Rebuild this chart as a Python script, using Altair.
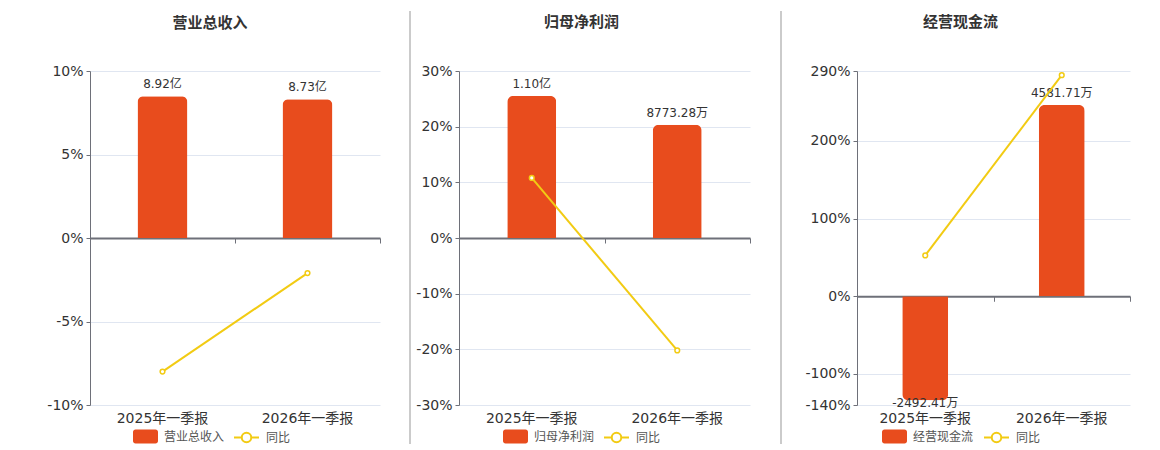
import altair as alt
import pandas as pd

categories = ["2025年一季报", "2026年一季报"]

rev_name = "营业总收入"
rev_values = [8.92, 8.73]          # 亿
rev_labels = ["8.92亿", "8.73亿"]
rev_yoy = [-8.0, -2.1]             # %

np_name = "归母净利润"
np_values = [11000.0, 8773.28]     # 万
np_labels = ["1.10亿", "8773.28万"]
np_yoy = [10.8, -20.2]

cf_name = "经营现金流"
cf_values = [-2492.41, 4581.71]    # 万
cf_labels = ["-2492.41万", "4581.71万"]
cf_yoy = [52.6, 284.6]

yoy_name = "同比"

BAR = "#E84C1D"
LINE = "#F2CB13"
AXIS = "#6E7079"
GRID = "#E0E6F1"
TXT = "#333333"
FONT = "DejaVu Sans, Noto Sans CJK SC, sans-serif"
H = 334

RECT_PATH = ("M-0.8,-0.56 H0.8 A0.2,0.2 0 0 1 1,-0.36 V0.36 A0.2,0.2 0 0 1 0.8,0.56 "
             "H-0.8 A0.2,0.2 0 0 1 -1,0.36 V-0.36 A0.2,0.2 0 0 1 -0.8,-0.56 Z")
LINE_PATH = ("M-1,0 H-0.38 M0.38,0 H1 M-0.38,0 A0.38,0.38 0 1 1 0.38,0 "
             "A0.38,0.38 0 1 1 -0.38,0")


def panel(name, values, labels, yoy, pct_domain, pct_ticks, bar_domain, width,
          axis_extent, bar_w, title_dx, leg_x1, leg_x2, sep_x, sep_op):
    df = pd.DataFrame({"cat": categories, "val": values, "label": labels, "yoy": yoy})
    zero_px = H * pct_domain[1] / (pct_domain[1] - pct_domain[0])
    xs = alt.Scale(domain=categories, paddingInner=0, paddingOuter=0)
    ybar_scale = alt.Scale(domain=bar_domain, nice=False, zero=False)
    ypct_scale = alt.Scale(domain=pct_domain, nice=False, zero=False)

    fill_enc = alt.Fill(
        "n:N",
        scale=alt.Scale(domain=[name], range=[BAR]),
        legend=alt.Legend(title=None, orient="none", legendX=leg_x1, legendY=353,
                          padding=0, symbolType=RECT_PATH, symbolSize=625,
                          symbolStrokeWidth=0, labelFontSize=12, labelColor="#555555",
                          labelOffset=6, labelFont=FONT),
    )
    base = alt.Chart(df).transform_calculate(n=f"'{name}'")

    zero_axis = alt.Axis(title=None, orient="bottom", labels=False, domain=True,
                         domainColor=AXIS, domainWidth=2, ticks=True, tickBand="extent",
                         tickColor=AXIS, tickSize=5, grid=False,
                         offset=-(H - zero_px))

    bars_pos = base.transform_filter("datum.val >= 0").mark_bar(
        size=bar_w, cornerRadiusTopLeft=6, cornerRadiusTopRight=6
    ).encode(
        x=alt.X("cat:N", scale=xs, sort=categories, axis=zero_axis),
        y=alt.Y("val:Q", scale=ybar_scale, axis=None),
        fill=fill_enc,
    )
    bars_neg = base.transform_filter("datum.val < 0").mark_bar(
        size=bar_w, cornerRadiusBottomLeft=6, cornerRadiusBottomRight=6
    ).encode(
        x=alt.X("cat:N", scale=xs, sort=categories, axis=None),
        y=alt.Y("val:Q", scale=ybar_scale, axis=None),
        fill=fill_enc,
    )
    text_pos = base.transform_filter("datum.val >= 0").mark_text(
        baseline="bottom", dy=-5, fontSize=12, color=TXT, font=FONT
    ).encode(
        x=alt.X("cat:N", scale=xs, sort=categories, axis=None),
        y=alt.Y("val:Q", scale=ybar_scale, axis=None),
        text="label:N",
    )
    text_neg = base.transform_filter("datum.val < 0").mark_text(
        baseline="top", dy=-2, fontSize=12, color=TXT, font=FONT
    ).encode(
        x=alt.X("cat:N", scale=xs, sort=categories, axis=None),
        y=alt.Y("val:Q", scale=ybar_scale, axis=None),
        text="label:N",
    )
    line = alt.Chart(df).transform_calculate(s=f"'{yoy_name}'").mark_line(
        strokeWidth=2,
        point=alt.OverlayMarkDef(filled=False, fill="white", size=22, strokeWidth=1.5),
    ).encode(
        x=alt.X("cat:N", scale=xs, sort=categories,
                axis=alt.Axis(title=None, orient="bottom", domain=False, ticks=False,
                              labelAngle=0, labelFontSize=14, labelColor=TXT,
                              labelPadding=6, labelFont=FONT, grid=False, offset=0)),
        y=alt.Y("yoy:Q", scale=ypct_scale,
                axis=alt.Axis(title=None, values=pct_ticks, labelExpr="datum.value + '%'",
                              grid=True, gridColor=GRID, domain=True, domainColor=AXIS,
                              ticks=True, tickSize=4, tickColor=AXIS, labelFontSize=14,
                              labelColor=TXT, labelFont=FONT, labelPadding=3,
                              minExtent=axis_extent, maxExtent=axis_extent)),
        stroke=alt.Stroke(
            "s:N",
            scale=alt.Scale(domain=[yoy_name], range=[LINE]),
            legend=alt.Legend(title=None, orient="none", legendX=leg_x2, legendY=353,
                              padding=0, symbolType=LINE_PATH, symbolSize=625,
                              symbolStrokeWidth=2, symbolFillColor="white",
                              labelFontSize=12, labelColor="#555555", labelOffset=6,
                              labelFont=FONT),
        ),
    )
    sep = alt.Chart(pd.DataFrame({"k": [0]})).mark_rule(
        color="#A8A8A8", strokeWidth=1.2, opacity=sep_op
    ).encode(x=alt.value(sep_x), y=alt.value(-60), y2=alt.value(373))

    return alt.layer(sep, bars_pos, bars_neg, text_pos, text_neg, line).resolve_scale(
        y="independent"
    ).resolve_axis(x="independent", y="independent").properties(
        width=width, height=H,
        title=alt.TitleParams(text=name, fontSize=15, fontWeight="bold", color=TXT,
                              font=FONT, anchor="middle", dx=title_dx, offset=-20),
    )


p1 = panel(rev_name, rev_values, rev_labels, rev_yoy, [-10, 10], [-10, -5, 0, 5, 10],
           [-10.5, 10.5], 290, 82, 50, -25, 43, 143, -80, 0)
p2 = panel(np_name, np_values, np_labels, np_yoy, [-30, 30], [-30, -20, -10, 0, 10, 20, 30],
           [-12930, 12930], 291, 58, 49, -23, 44, 144, -49, 1)
p3 = panel(cf_name, cf_values, cf_labels, cf_yoy, [-140, 290], [-140, -100, 0, 100, 200, 290],
           [-2604, 5393], 273, 86, 46, -33, 25, 126, -76, 1)

chart = alt.hconcat(p1, p2, p3, spacing=20).resolve_scale(
    x="independent", y="independent", fill="independent", stroke="independent"
).resolve_legend(fill="independent", stroke="independent").properties(
    padding={"left": 0, "top": 2, "right": 0, "bottom": 0}
).configure(font=FONT).configure_view(stroke=None)

chart.save("out.html", embed_options={"renderer": "svg", "actions": False})
